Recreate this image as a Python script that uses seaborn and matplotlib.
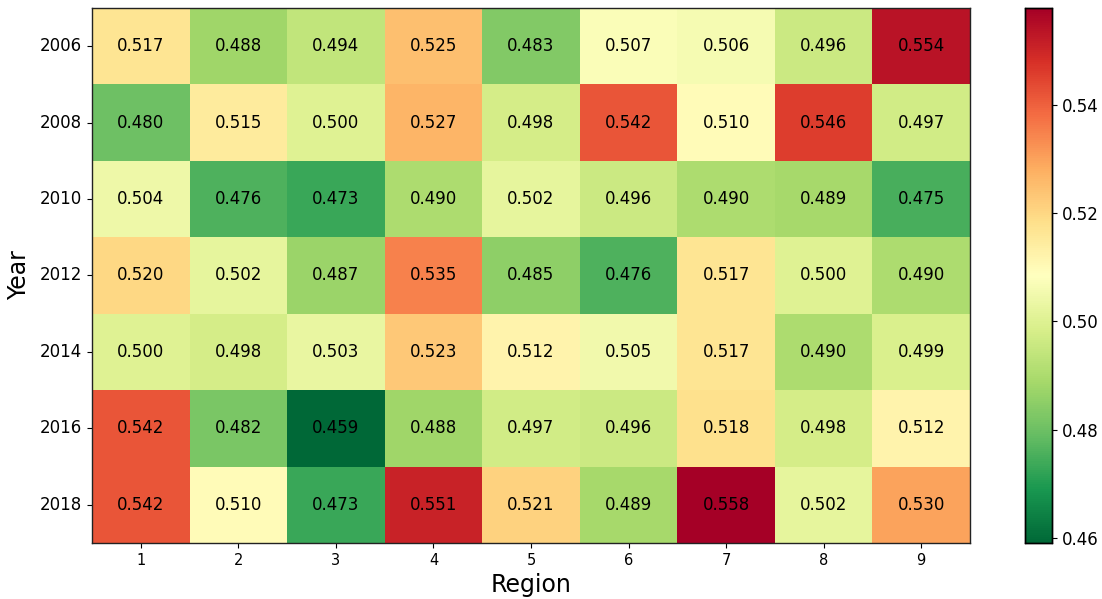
import numpy as np
import pandas as pd
import matplotlib
matplotlib.use("Agg")
import matplotlib.pyplot as plt
import seaborn as sns

# --- Data ---
years = [2006, 2008, 2010, 2012, 2014, 2016, 2018]
regions = [1, 2, 3, 4, 5, 6, 7, 8, 9]

r2006 = [0.517, 0.488, 0.494, 0.525, 0.483, 0.507, 0.506, 0.496, 0.554]
r2008 = [0.480, 0.515, 0.500, 0.527, 0.498, 0.542, 0.510, 0.546, 0.497]
r2010 = [0.504, 0.476, 0.473, 0.490, 0.502, 0.496, 0.490, 0.489, 0.475]
r2012 = [0.520, 0.502, 0.487, 0.535, 0.485, 0.476, 0.517, 0.500, 0.490]
r2014 = [0.500, 0.498, 0.503, 0.523, 0.512, 0.505, 0.517, 0.490, 0.499]
r2016 = [0.542, 0.482, 0.459, 0.488, 0.497, 0.496, 0.518, 0.498, 0.512]
r2018 = [0.542, 0.510, 0.473, 0.551, 0.521, 0.489, 0.558, 0.502, 0.530]

df = pd.DataFrame([r2006, r2008, r2010, r2012, r2014, r2016, r2018],
                  index=years, columns=regions)

# --- Plot ---
fig = plt.figure(figsize=(11.02, 5.99), dpi=100)
ax = fig.add_axes([0.0835, 0.0935, 0.7967, 0.8932])
cax = fig.add_axes([0.930, 0.0935, 0.0245, 0.8932])

sns.heatmap(df, ax=ax, cbar_ax=cax, cmap="RdYlGn_r", annot=True, fmt=".3f",
            annot_kws={"fontsize": 12, "color": "black"})

for s in ax.spines.values():
    s.set_visible(True)
    s.set_linewidth(1)
    s.set_color("#222222")
cax.set_frame_on(True)
for s in cax.spines.values():
    s.set_visible(True)
    s.set_linewidth(1)

ax.set_xlabel("Region", fontsize=17, labelpad=4)
ax.set_ylabel("Year", fontsize=17, labelpad=6)
ax.tick_params(axis="x", labelsize=10.5, rotation=0)
ax.tick_params(axis="y", labelsize=12, rotation=0)
cax.tick_params(labelsize=12)
cax.set_yticks([0.46, 0.48, 0.50, 0.52, 0.54])

fig.savefig("out.png", dpi=100)
